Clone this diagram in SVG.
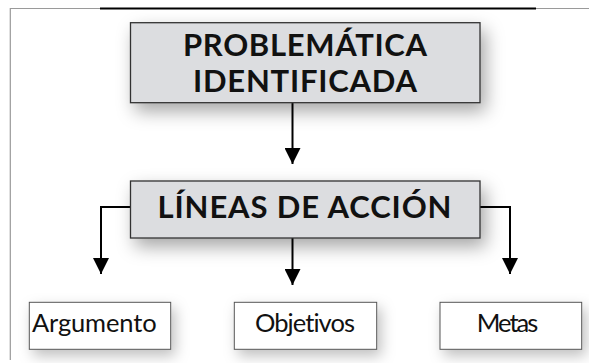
<svg xmlns="http://www.w3.org/2000/svg" width="589" height="363" viewBox="0 0 589 363">
  <style>
    .frame { stroke: #9a9a9a; stroke-width: 1.2; fill: none; }
    .topbar { stroke: #000; stroke-width: 2; fill: none; }
    .main { fill: #dcdde0; stroke: #333; stroke-width: 1.3; }
    .leaf { fill: #fff; stroke: #555; stroke-width: 1; }
    .title { font-family: Lato, "Open Sans", sans-serif; font-weight: 700; font-size: 31px; fill: #111; text-anchor: middle; }
    .label { font-family: Lato, "Open Sans", sans-serif; font-weight: 400; font-size: 25.5px; fill: #111; text-anchor: middle; font-variant-ligatures: none; }
    .conn { stroke: #000; stroke-width: 2; fill: none; marker-end: url(#arrow); }
  </style>
  <defs>
    <filter id="shadow" x="-30%" y="-40%" width="160%" height="200%">
      <feDropShadow dx="5" dy="8" stdDeviation="9" flood-color="#000" flood-opacity="0.35"/>
    </filter>
    <filter id="shadowS" x="-30%" y="-40%" width="160%" height="200%">
      <feDropShadow dx="4" dy="6" stdDeviation="7" flood-color="#000" flood-opacity="0.25"/>
    </filter>
    <marker id="arrow" markerUnits="userSpaceOnUse" markerWidth="16" markerHeight="16" viewBox="0 0 15 15" refX="15" refY="7.5" orient="auto">
      <path d="M0,0 L15,7.5 L0,15 Z" fill="#000"/>
    </marker>
  </defs>
  <rect x="0" y="0" width="589" height="363" fill="#fff"/>
  <g id="frame">
    <path class="frame" d="M10.3,360 V8.5 H100 M536,8.5 H589"/>
    <path class="topbar" d="M100,8.5 H536"/>
  </g>
  <g id="connectors">
    <path class="conn" d="M292.5,103 V164"/>
    <path class="conn" d="M130.5,207 H101 V274"/>
    <path class="conn" d="M480,207 H510 V274"/>
    <path class="conn" d="M292.5,238 V285"/>
  </g>
  <g id="problematica">
    <rect class="main" x="130.5" y="22.7" width="349.5" height="80" filter="url(#shadow)"/>
    <text class="title" x="305" y="56" textLength="244" lengthAdjust="spacing">PROBLEMÁTICA</text>
    <text class="title" x="305" y="91.5" textLength="224" lengthAdjust="spacing">IDENTIFICADA</text>
  </g>
  <g id="lineas">
    <rect class="main" x="130.5" y="181" width="349.5" height="57" filter="url(#shadow)"/>
    <text class="title" x="304.5" y="217.5" textLength="294" lengthAdjust="spacing">LÍNEAS DE ACCIÓN</text>
  </g>
  <g id="argumento">
    <rect class="leaf" x="29.3" y="302.3" width="141.4" height="47" filter="url(#shadowS)"/>
    <text class="label" x="94.3" y="332" textLength="124.7" lengthAdjust="spacing">Argumento</text>
  </g>
  <g id="objetivos">
    <rect class="leaf" x="234.3" y="302.3" width="142.4" height="47" filter="url(#shadowS)"/>
    <text class="label" x="305" y="332" textLength="100" lengthAdjust="spacing">Objetivos</text>
  </g>
  <g id="metas">
    <rect class="leaf" x="440" y="302.3" width="141.7" height="47" filter="url(#shadowS)"/>
    <text class="label" x="507.5" y="332" textLength="61.7" lengthAdjust="spacing">Metas</text>
  </g>
</svg>
